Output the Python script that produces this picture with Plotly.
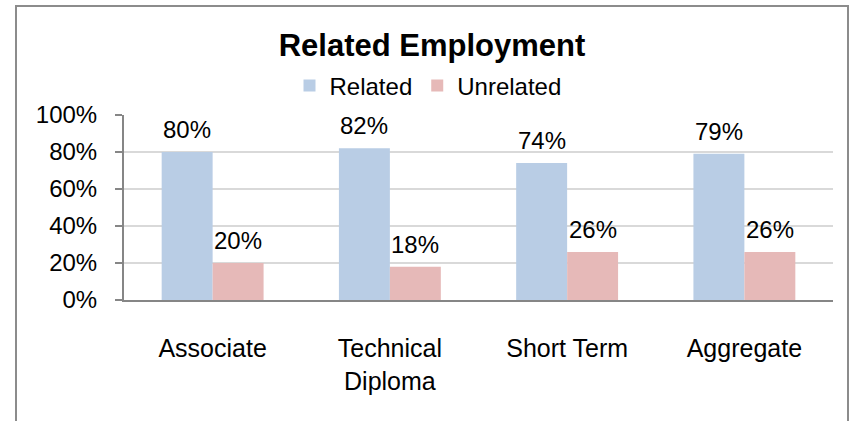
import plotly.graph_objects as go

categories = ["Associate", "Technical<br>Diploma", "Short Term", "Aggregate"]
related = [80, 82, 74, 79]
unrelated = [20, 18, 26, 26]
y_ticks = [0, 20, 40, 60, 80, 100]
y_tick_labels = [f"{v}%" for v in y_ticks]
series = [("Related", related, "#B9CDE5"), ("Unrelated", unrelated, "#E6B9B8")]

W, H = 853, 421
L, R, T, B = 124, 20, 115, 121
pw = W - L - R
ph = H - T - B
BARGAP = 0.425

def px_x(p):
    return (p - L) / pw

def px_y(p):
    return (H - B - p) / ph

FONT = "Liberation Sans, Arial, sans-serif"

fig = go.Figure()
for name, vals, color in series:
    fig.add_trace(go.Bar(
        name=name, x=list(range(len(categories))), y=vals,
        marker=dict(color=color, line=dict(width=0)),
    ))

# value labels above bars
bw = (1 - BARGAP) / len(series)
for k, (name, vals, color) in enumerate(series):
    off = -(1 - BARGAP) / 2 + bw * (k + 0.5)
    for i, v in enumerate(vals):
        fig.add_annotation(x=i + off, y=v, xref="x", yref="y", text=f"{v}%",
                           showarrow=False, yanchor="bottom", xanchor="center",
                           yshift=7, font=dict(size=24, family=FONT, color="black"))

fig.add_shape(type="rect", xref="paper", yref="paper",
              x0=px_x(16), x1=px_x(848), y0=px_y(430), y1=px_y(6),
              line=dict(color="#8C8C8C", width=2), fillcolor="rgba(0,0,0,0)",
              layer="below")

fig.update_layout(
    width=W, height=H,
    margin=dict(l=L, r=R, t=T, b=B, autoexpand=False),
    paper_bgcolor="white", plot_bgcolor="white",
    barmode="group", bargap=BARGAP, bargroupgap=0,
    font=dict(family=FONT, size=24, color="black"),
    title=dict(text="<b>Related Employment</b>", xref="container", yref="container",
               x=432 / W, y=1 - 45 / H, xanchor="center", yanchor="middle",
               font=dict(size=31, family=FONT, color="black")),
    legend=dict(orientation="h", x=px_x(428), y=px_y(86), xanchor="center", yanchor="middle",
                font=dict(size=24, family=FONT, color="black"),
                itemwidth=30, traceorder="normal", bgcolor="rgba(0,0,0,0)"),
    showlegend=True,
)
fig.update_xaxes(
    tickmode="array", tickvals=list(range(len(categories))), ticktext=categories,
    range=[-0.5, len(categories) - 0.5],
    showline=True, linecolor="#868686", linewidth=2,
    ticks="", showgrid=False, ticklabelstandoff=25,
    tickfont=dict(size=25, family=FONT, color="black"),
)
fig.update_yaxes(
    range=[0, 100], tickmode="array", tickvals=y_ticks, ticktext=y_tick_labels,
    showline=True, linecolor="#868686", linewidth=2,
    ticks="outside", ticklen=7, tickcolor="#868686", tickwidth=2,
    showgrid=True, gridcolor="#D9D9D9", gridwidth=2,
    zeroline=False, ticklabelstandoff=13,
    tickfont=dict(size=24, family=FONT, color="black"),
)

fig.write_html("out.html", config={"displayModeBar": False},
               post_script="document.body.style.margin='0';")
